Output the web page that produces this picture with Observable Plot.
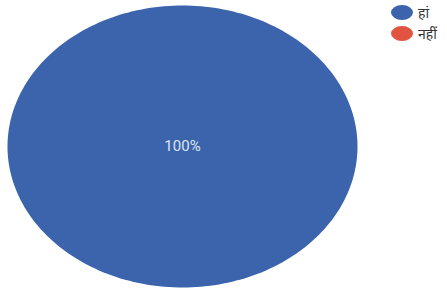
<!DOCTYPE html>
<html>
<head>
<meta charset="utf-8">
<script src="https://cdn.jsdelivr.net/npm/d3@7"></script>
<script src="https://cdn.jsdelivr.net/npm/@observablehq/plot@0.6"></script>
<style>
  html, body { margin: 0; padding: 0; background: #fff; }
  #wrap { position: relative; width: 447px; height: 291px; font-family: "Noto Sans", Roboto, sans-serif; }
  #legend { position: absolute; left: 391px; top: 2px; font-size: 14px; color: #333; }
  .item { display: flex; align-items: center; height: 21px; }
  .sw { width: 22px; height: 15px; border-radius: 50%; margin-right: 5px; }
</style>
</head>
<body>
<div id="wrap"><div id="legend"></div></div>
<script>
const categories = ["हां", "नहीं"];
const values = [100, 0];
const labels = ["100%", ""];
const colors = ["#3b64ad", "#e05440"];

const data = categories.map((c, i) => ({category: c, value: values[i], label: labels[i]}));
const arcs = d3.pie().value(d => d.value).sort(null)(data);

// sample slice outlines in unit (scale) space
const pts = [];
arcs.forEach(a => {
  if (a.endAngle - a.startAngle <= 0) return;
  const full = a.endAngle - a.startAngle >= 2 * Math.PI - 1e-9;
  if (!full) pts.push({category: a.data.category, x: 0, y: 0});
  const n = 240;
  for (let k = 0; k <= n; k++) {
    const t = a.startAngle + (a.endAngle - a.startAngle) * k / n;
    pts.push({category: a.data.category, x: Math.sin(t), y: Math.cos(t)});
  }
});
const labelPts = arcs.filter(a => a.data.label).map(a => {
  const full = a.endAngle - a.startAngle >= 2 * Math.PI - 1e-9;
  const m = (a.startAngle + a.endAngle) / 2, r = full ? 0 : 0.6;
  return {x: r * Math.sin(m), y: r * Math.cos(m), label: a.data.label};
});

const chart = Plot.plot({
  width: 447,
  height: 291,
  marginLeft: 7,
  marginRight: 90,
  marginTop: 5,
  marginBottom: 4,
  x: {domain: [-1, 1], axis: null},
  y: {domain: [-1, 1], axis: null},
  color: {domain: categories, range: colors},
  style: {background: "#fff", fontFamily: "Roboto, sans-serif"},
  marks: [
    Plot.line(pts, {x: "x", y: "y", z: "category", fill: "category", stroke: "none", curve: "linear-closed"}),
    Plot.text(labelPts, {x: "x", y: "y", text: "label", fill: "#dde4f0", fontSize: 15, fontWeight: 400, style: "letter-spacing:1.5px"})
  ]
});
const wrap = document.getElementById("wrap");
wrap.insertBefore(chart, wrap.firstChild);

const legend = document.getElementById("legend");
categories.forEach((c, i) => {
  const it = document.createElement("div");
  it.className = "item";
  const sw = document.createElement("span");
  sw.className = "sw";
  sw.style.background = colors[i];
  const tx = document.createElement("span");
  tx.textContent = c;
  it.appendChild(sw); it.appendChild(tx);
  legend.appendChild(it);
});
</script>
</body>
</html>
